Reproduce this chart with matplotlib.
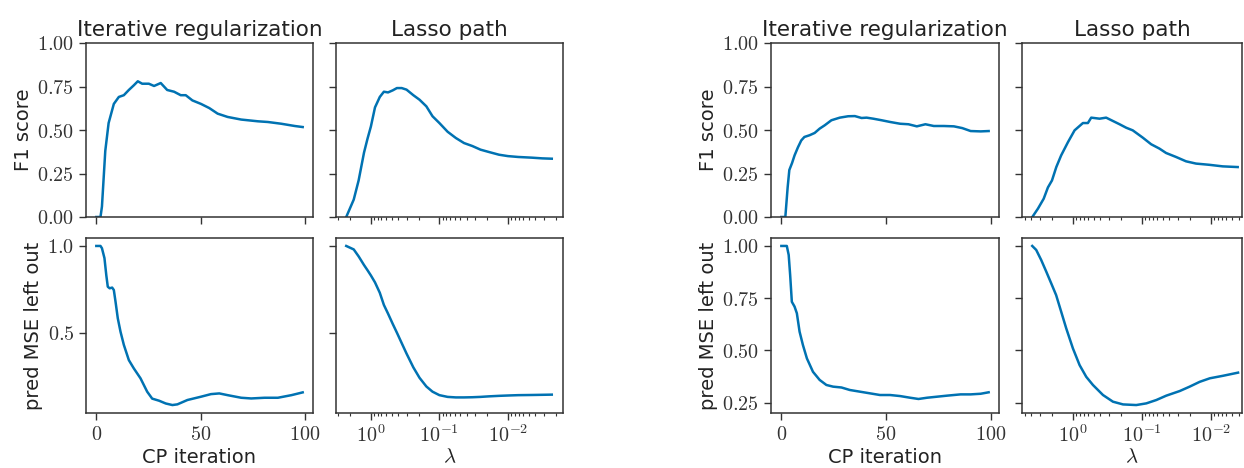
import numpy as np
import matplotlib
matplotlib.use("Agg")
import matplotlib.pyplot as plt
from matplotlib.ticker import FuncFormatter, LogLocator, NullFormatter

plt.rcParams["mathtext.fontset"] = "cm"
plt.rcParams["font.family"] = "DejaVu Sans"

# ---- left group ----
it_f1_a = [0, 2, 2.7, 4.3, 5.9, 8.4, 10.8, 13.2, 15.6, 18, 19.9, 22, 25.2, 27.7, 30.9, 34, 37.3,
           40.5, 42.9, 46.1, 50.2, 54.2, 58.2, 63, 69.5, 77.5, 82.3, 88.7, 95.2, 99]
f1_iter_a = [0.0, 0.0, 0.06, 0.38, 0.54, 0.65, 0.69, 0.70, 0.73, 0.757, 0.78, 0.766, 0.766, 0.753,
             0.77, 0.73, 0.72, 0.70, 0.70, 0.67, 0.65, 0.626, 0.594, 0.575, 0.56, 0.55, 0.546,
             0.536, 0.523, 0.517]

it_mse_a = [0, 2, 2.7, 3.9, 4.8, 5.5, 6.4, 7.6, 8.4, 9.2, 10.3, 11.6, 13.2, 15.6, 18, 21.2, 24.4,
            26.8, 30.1, 33.3, 36.5, 38.9, 43.7, 50.2, 55, 59, 63, 69.5, 74.3, 80.7, 87.1, 93.6, 99]
mse_iter_a = [1.0, 1.0, 0.987, 0.93, 0.83, 0.765, 0.756, 0.76, 0.746, 0.68, 0.583, 0.506, 0.43,
              0.342, 0.294, 0.237, 0.16, 0.12, 0.108, 0.092, 0.083, 0.087, 0.112, 0.131, 0.146,
              0.15, 0.14, 0.125, 0.121, 0.125, 0.125, 0.14, 0.156]

lam_a = [2.29, 1.78, 1.51, 1.26, 1.12, 1.0, 0.871, 0.741, 0.646, 0.562, 0.479, 0.417, 0.355,
         0.302, 0.240, 0.195, 0.155, 0.126, 0.1, 0.0759, 0.0575, 0.0437, 0.0331, 0.0251, 0.0191,
         0.0135, 0.01, 0.00708, 0.00447, 0.00316, 0.00229]
f1_lasso_a = [0.0, 0.10, 0.21, 0.37, 0.45, 0.52, 0.63, 0.69, 0.72, 0.716, 0.728, 0.741, 0.741,
              0.732, 0.70, 0.674, 0.636, 0.579, 0.54, 0.49, 0.454, 0.425, 0.408, 0.387, 0.374,
              0.358, 0.35, 0.345, 0.341, 0.337, 0.335]
mse_lasso_a = [1.0, 0.98, 0.94, 0.89, 0.86, 0.83, 0.79, 0.73, 0.66, 0.61, 0.55, 0.50, 0.44,
               0.38, 0.30, 0.24, 0.19, 0.16, 0.14, 0.13, 0.127, 0.127, 0.128, 0.13, 0.133,
               0.136, 0.138, 0.14, 0.141, 0.142, 0.143]

# ---- right group ----
it_f1_b = [0, 1.9, 3, 3.8, 5.1, 6.3, 7.9, 9.5, 11, 13.5, 15.9, 18.3, 20.7, 23.9, 27.9, 31.9, 35.1,
           38.3, 40.7, 43.9, 47.9, 52, 56.7, 60.7, 64.7, 68.8, 72.8, 77.6, 82.4, 86.4, 90.4, 95.2, 99]
f1_iter_b = [0.0, 0.0, 0.17, 0.27, 0.31, 0.354, 0.40, 0.44, 0.46, 0.47, 0.483, 0.508, 0.527,
             0.556, 0.571, 0.579, 0.58, 0.569, 0.571, 0.565, 0.556, 0.546, 0.536, 0.533, 0.521,
             0.533, 0.523, 0.523, 0.521, 0.511, 0.494, 0.492, 0.494]

it_mse_b = [0, 2.6, 3.5, 4.2, 5, 6.3, 7.4, 8.7, 10.3, 12.2, 15.1, 18.3, 21.5, 24.7, 28.7, 32.7,
            37.5, 42.3, 47.1, 51.9, 56.7, 61.5, 65.5, 69.6, 74.4, 79.2, 85.6, 90.4, 95.2, 99]
mse_iter_b = [1.0, 1.0, 0.957, 0.861, 0.733, 0.71, 0.678, 0.59, 0.526, 0.462, 0.398, 0.359,
              0.335, 0.327, 0.323, 0.311, 0.303, 0.295, 0.287, 0.287, 0.282, 0.274, 0.268,
              0.274, 0.279, 0.284, 0.29, 0.29, 0.293, 0.30]

lam_f1_b = [3.87, 3.21, 2.65, 2.30, 2.01, 1.74, 1.48, 1.18, 0.946, 0.716, 0.607, 0.543, 0.411,
            0.330, 0.264, 0.211, 0.169, 0.136, 0.0973, 0.0736, 0.0558, 0.0448, 0.0321, 0.0230,
            0.0165, 0.0106, 0.00678, 0.00411]
f1_lasso_b = [0.0, 0.048, 0.105, 0.17, 0.21, 0.287, 0.354, 0.43, 0.498, 0.54, 0.54, 0.571,
              0.565, 0.571, 0.552, 0.533, 0.513, 0.498, 0.456, 0.418, 0.393, 0.368, 0.345,
              0.32, 0.307, 0.30, 0.291, 0.287]

lam_mse_b = [3.88, 3.40, 2.88, 2.43, 2.06, 1.75, 1.48, 1.25, 1.0, 0.80, 0.641, 0.513, 0.367,
             0.263, 0.188, 0.121, 0.0865, 0.0620, 0.0444, 0.0284, 0.0204, 0.0146, 0.0104,
             0.0067, 0.00406]
mse_lasso_b = [1.0, 0.981, 0.933, 0.877, 0.821, 0.765, 0.686, 0.606, 0.51, 0.43, 0.374, 0.335,
               0.287, 0.255, 0.242, 0.239, 0.247, 0.263, 0.284, 0.306, 0.327, 0.35, 0.367,
               0.379, 0.394]

color = "#0072b2"
W, H = 1244, 468
fig = plt.figure(figsize=(W / 100, H / 100), dpi=100)


def pos(x0, x1, y0, y1):
    return [x0 / W, 1 - y1 / H, (x1 - x0) / W, (y1 - y0) / H]


def style(ax):
    for s in ax.spines.values():
        s.set_color("#333333")
        s.set_linewidth(1.1)
    ax.tick_params(which="major", length=5, width=1.0, color="#333333", labelsize=14.5,
                   labelcolor="#333333")
    ax.tick_params(which="minor", length=2.5, width=0.8, color="#333333")


fmt2 = FuncFormatter(lambda v, p: r"$%.2f$" % v)
fmt1 = FuncFormatter(lambda v, p: r"$%.1f$" % v)
fmt0 = FuncFormatter(lambda v, p: r"$%d$" % round(v))
fmtlog = FuncFormatter(lambda v, p: r"$10^{%d}$" % round(np.log10(v)))

groups = [
    dict(xi=(86, 313), xl=(336, 563), lamlim=(3.23, 0.00157), mse_ticks=[0.5, 1.0], mse_fmt=fmt1,
         it_f1=it_f1_a, f1_it=f1_iter_a, it_mse=it_mse_a, mse_it=mse_iter_a,
         lam_f1=lam_a, f1_l=f1_lasso_a, lam_mse=lam_a, mse_l=mse_lasso_a),
    dict(xi=(771, 999), xl=(1022, 1242), lamlim=(5.46, 0.00356),
         mse_ticks=[0.25, 0.5, 0.75, 1.0], mse_fmt=fmt2,
         it_f1=it_f1_b, f1_it=f1_iter_b, it_mse=it_mse_b, mse_it=mse_iter_b,
         lam_f1=lam_f1_b, f1_l=f1_lasso_b, lam_mse=lam_mse_b, mse_l=mse_lasso_b),
]

for g in groups:
    a_f1i = fig.add_axes(pos(*g["xi"], 43, 217))
    a_f1l = fig.add_axes(pos(*g["xl"], 43, 217), sharey=a_f1i)
    a_msi = fig.add_axes(pos(*g["xi"], 238, 413), sharex=a_f1i)
    a_msl = fig.add_axes(pos(*g["xl"], 238, 413), sharex=a_f1l, sharey=a_msi)

    a_f1i.plot(g["it_f1"], g["f1_it"], color=color, lw=1.8)
    a_f1l.plot(g["lam_f1"], g["f1_l"], color=color, lw=1.8)
    a_msi.plot(g["it_mse"], g["mse_it"], color=color, lw=1.8)
    a_msl.plot(g["lam_mse"], g["mse_l"], color=color, lw=1.8)

    a_f1i.set_ylim(0, 1)
    a_f1i.set_yticks([0, 0.25, 0.5, 0.75, 1.0])
    a_f1i.yaxis.set_major_formatter(fmt2)
    a_msi.set_yticks(g["mse_ticks"])
    a_msi.yaxis.set_major_formatter(g["mse_fmt"])

    a_f1i.set_xticks([0, 50, 100])
    a_msi.xaxis.set_major_formatter(fmt0)

    a_f1l.set_xscale("log")
    a_f1l.set_xlim(*g["lamlim"])
    a_f1l.xaxis.set_major_locator(LogLocator(base=10, numticks=10))
    a_f1l.xaxis.set_minor_locator(LogLocator(base=10, subs=np.arange(2, 10), numticks=10))
    a_msl.xaxis.set_major_formatter(fmtlog)
    a_msl.xaxis.set_minor_formatter(NullFormatter())

    for ax in (a_f1i, a_f1l):
        ax.tick_params(labelbottom=False)
    for ax in (a_f1l, a_msl):
        ax.tick_params(labelleft=False)

    a_f1i.set_title("Iterative regularization", fontsize=15.5, pad=5, color="#222222")
    a_f1l.set_title("Lasso path", fontsize=15.5, pad=5, color="#222222")
    a_f1i.set_ylabel("F1 score", fontsize=14, labelpad=3, color="#222222")
    a_msi.set_ylabel("pred MSE left out", fontsize=14, labelpad=3, color="#222222")
    a_msi.set_xlabel("CP iteration", fontsize=14, labelpad=3, color="#222222")
    a_msl.set_xlabel(r"$\lambda$", fontsize=15, labelpad=0, color="#222222")

    for ax in (a_f1i, a_f1l, a_msi, a_msl):
        style(ax)

fig.savefig("out.png", dpi=100)
